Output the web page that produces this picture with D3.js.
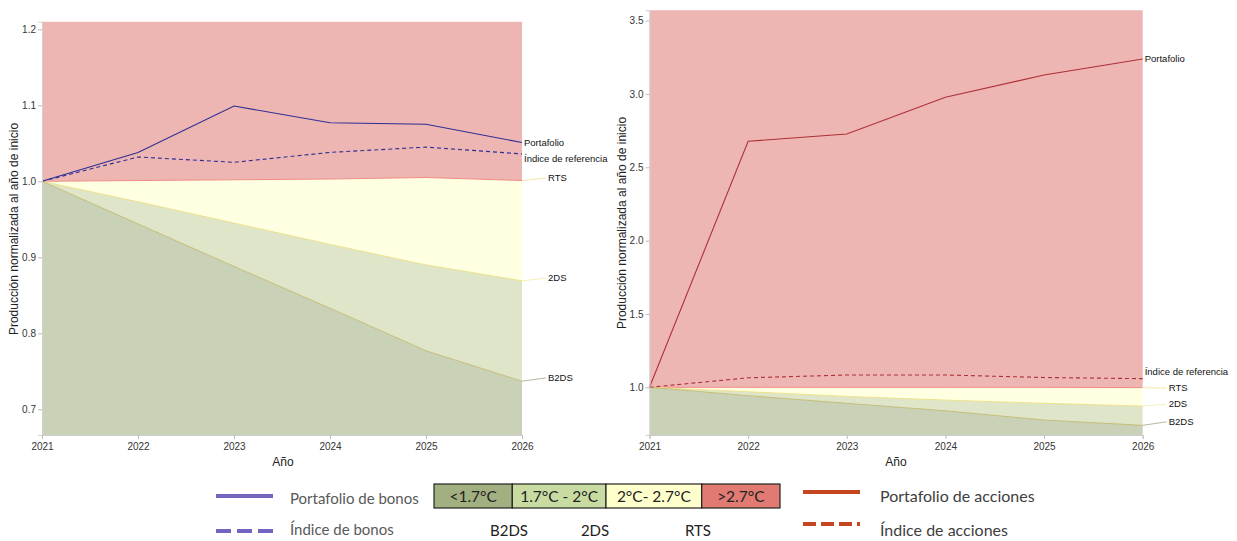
<!DOCTYPE html>
<html>
<head>
<meta charset="utf-8">
<script src="https://cdn.jsdelivr.net/npm/d3@7"></script>
<style>
  html, body { margin: 0; padding: 0; background: #ffffff; }
  svg { display: block; }
</style>
</head>
<body>
<svg id="chart" width="1237" height="541"></svg>
<script>
// ---------------- DATA ----------------
const years = [2021, 2022, 2023, 2024, 2025, 2026];

// Bonos (panel izquierdo)
const bondPortfolio = [1.000, 1.038, 1.099, 1.077, 1.075, 1.051];
const bondIndex     = [1.000, 1.032, 1.025, 1.038, 1.045, 1.036];
const bondRTS       = [1.000, 1.001, 1.002, 1.003, 1.005, 1.001];
const bond2DS       = [1.000, 0.973, 0.945, 0.917, 0.890, 0.869];
const bondB2DS      = [1.000, 0.944, 0.888, 0.833, 0.777, 0.737];
const bondYTicks    = [0.7, 0.8, 0.9, 1.0, 1.1, 1.2];

// Acciones (panel derecho)
const equityPortfolio = [1.000, 2.677, 2.727, 2.977, 3.129, 3.238];
const equityIndex     = [1.000, 1.065, 1.084, 1.084, 1.067, 1.059];
const equityRTS       = [1.000, 1.000, 1.000, 1.000, 1.000, 0.998];
const equity2DS       = [1.000, 0.970, 0.938, 0.913, 0.891, 0.872];
const equityB2DS      = [1.000, 0.943, 0.891, 0.840, 0.777, 0.741];
const equityYTicks    = [1.0, 1.5, 2.0, 2.5, 3.0, 3.5];

// Etiquetas
const yTitle = "Producción normalizada al año de inicio";
const xTitle = "Año";
const lineLabels = ["Portafolio", "Índice de referencia"];
const scenarioNames = ["RTS", "2DS", "B2DS"];
const tempBands = ["<1.7°C", "1.7°C - 2°C", "2°C- 2.7°C", ">2.7°C"];
const bandScenarios = ["B2DS", "2DS", "RTS"];
const bondLegend = ["Portafolio de bonos", "Índice de bonos"];
const equityLegend = ["Portafolio de acciones", "Índice de acciones"];

// ---------------- STYLE ----------------
const C = {
  red: "#EDB6B2", yellow: "#FFFFE1", lgreen: "#DEE5C9", dgreen: "#C9D1B6",
  rtsLine: "#F08A86", ds2Line: "#EEE38C", b2dsLine: "#C6BE78",
  leadRTS: "#F3E9A6", lead2DS: "#F6F0B8", leadB2DS: "#B4BB9C",
  axis: "#D0D0D0", tick: "#333333"
};
const chartFont = "'Liberation Sans', Arial, sans-serif";
const legendFont = "Lato, 'Open Sans', sans-serif";

const svg = d3.select("#chart");

function drawPanel(cfg) {
  const x = d3.scaleLinear().domain([2021, 2026]).range(cfg.xr);
  const y = d3.scaleLinear().domain(cfg.yd).range(cfg.yr);
  const g = svg.append("g");
  const top = cfg.yd[1], bottom = cfg.yd[0];

  const rows = years.map((yr, i) => ({
    yr, p: cfg.port[i], idx: cfg.index[i], rts: cfg.rts[i], ds2: cfg.ds2[i], b2: cfg.b2ds[i]
  }));

  const area = (lo, hi) => d3.area().x(d => x(d.yr)).y0(d => y(lo(d))).y1(d => y(hi(d)));

  g.append("path").datum(rows).attr("fill", C.red).attr("d", area(d => d.rts, d => top));
  g.append("path").datum(rows).attr("fill", C.yellow).attr("d", area(d => d.ds2, d => d.rts));
  g.append("path").datum(rows).attr("fill", C.lgreen).attr("d", area(d => d.b2, d => d.ds2));
  g.append("path").datum(rows).attr("fill", C.dgreen).attr("d", area(d => bottom, d => d.b2));

  const line = acc => d3.line().x(d => x(d.yr)).y(d => y(acc(d)));
  g.append("path").datum(rows).attr("fill", "none").attr("stroke", C.rtsLine).attr("stroke-width", 1).attr("d", line(d => d.rts));
  g.append("path").datum(rows).attr("fill", "none").attr("stroke", C.ds2Line).attr("stroke-width", 1).attr("d", line(d => d.ds2));
  g.append("path").datum(rows).attr("fill", "none").attr("stroke", C.b2dsLine).attr("stroke-width", 1).attr("d", line(d => d.b2));

  g.append("path").datum(rows).attr("fill", "none").attr("stroke", cfg.lineColor)
    .attr("stroke-width", 1.1).attr("stroke-dasharray", "4,3").attr("d", line(d => d.idx));
  g.append("path").datum(rows).attr("fill", "none").attr("stroke", cfg.lineColor)
    .attr("stroke-width", 1.1).attr("d", line(d => d.p));

  // axes
  const yAxis = d3.axisLeft(y).tickValues(cfg.yTicks).tickFormat(d3.format(".1f")).tickSize(4).tickPadding(2);
  const ya = g.append("g").attr("transform", `translate(${cfg.xr[0]},0)`).call(yAxis);
  const xAxis = d3.axisBottom(x).tickValues(years).tickFormat(d3.format("d")).tickSize(4).tickPadding(4);
  const xa = g.append("g").attr("transform", `translate(0,${cfg.yr[0]})`).call(xAxis);
  [ya, xa].forEach(a => {
    a.select(".domain").attr("stroke", C.axis);
    a.selectAll(".tick line").attr("stroke", "#BBBBBB");
    a.selectAll(".tick text").attr("fill", C.tick).style("font-family", chartFont).style("font-size", "10px");
  });

  // titles
  g.append("text").attr("transform", `translate(${cfg.yTitleX},${cfg.yTitleY}) rotate(-90)`)
    .attr("text-anchor", "middle").attr("fill", "#222").style("font-family", chartFont).style("font-size", "12px")
    .text(yTitle);
  g.append("text").attr("x", cfg.xTitleX).attr("y", 466).attr("text-anchor", "middle").attr("fill", "#222")
    .style("font-family", chartFont).style("font-size", "12px").text(xTitle);

  // end labels
  const xe = cfg.xr[1];
  const last = rows[rows.length - 1];
  const lbl = (tx, ty, s) => g.append("text").attr("x", tx).attr("y", ty).attr("dy", "0.35em")
    .attr("fill", "#111").style("font-family", chartFont).style("font-size", "9.5px").text(s);
  lbl(xe + 2, y(last.p) + cfg.offP, lineLabels[0]);
  lbl(xe + 2, y(last.idx) + cfg.offI, lineLabels[1]);
  const scen = [[last.rts, C.leadRTS, cfg.offS[0]], [last.ds2, C.lead2DS, cfg.offS[1]], [last.b2, C.leadB2DS, cfg.offS[2]]];
  scen.forEach((s, i) => {
    const ty = y(s[0]) + s[2];
    g.append("line").attr("x1", xe).attr("y1", y(s[0])).attr("x2", xe + cfg.leadLen).attr("y2", ty)
      .attr("stroke", s[1]).attr("stroke-width", 1);
    lbl(xe + cfg.leadLen + 2, ty, scenarioNames[i]);
  });
}

drawPanel({
  xr: [42, 522], yd: [0.6662, 1.21], yr: [435, 21.7], yTicks: bondYTicks,
  port: bondPortfolio, index: bondIndex, rts: bondRTS, ds2: bond2DS, b2ds: bondB2DS,
  lineColor: "#2E2E94", yTitleX: 18, yTitleY: 229, xTitleX: 283,
  offP: 0, offI: 5, offS: [-2.5, -2.7, -3.3], leadLen: 24
});
drawPanel({
  xr: [649.5, 1142.7], yd: [0.675, 3.57], yr: [435, 10.3], yTicks: equityYTicks,
  port: equityPortfolio, index: equityIndex, rts: equityRTS, ds2: equity2DS, b2ds: equityB2DS,
  lineColor: "#AE3038", yTitleX: 626, yTitleY: 223, xTitleX: 896,
  offP: 0, offI: -7, offS: [0.5, -2, -3.5], leadLen: 24
});

// ---------------- LEGEND ----------------
const lg = svg.append("g");
const legText = (x, y, s, color, size, anchor) => lg.append("text").attr("x", x).attr("y", y)
  .attr("text-anchor", anchor || "start").attr("fill", color).style("font-family", legendFont)
  .style("font-size", size + "px").text(s);

// bonos
lg.append("line").attr("x1", 216).attr("x2", 273).attr("y1", 496).attr("y2", 496)
  .attr("stroke", "#7464C2").attr("stroke-width", 4);
lg.append("line").attr("x1", 216).attr("x2", 273).attr("y1", 531).attr("y2", 531)
  .attr("stroke", "#7464C2").attr("stroke-width", 4).attr("stroke-dasharray", "15,6");
legText(290, 504, bondLegend[0], "#595959", 15);
legText(290, 535, bondLegend[1], "#595959", 15);

// acciones
lg.append("line").attr("x1", 803).attr("x2", 860).attr("y1", 492).attr("y2", 492)
  .attr("stroke", "#C4451E").attr("stroke-width", 4);
lg.append("line").attr("x1", 803).attr("x2", 860).attr("y1", 524).attr("y2", 524)
  .attr("stroke", "#C4451E").attr("stroke-width", 4).attr("stroke-dasharray", "13,5");
legText(880, 502, equityLegend[0], "#404040", 16);
legText(880, 536, equityLegend[1], "#404040", 16);

// bandas de temperatura
const bandX = [434, 512.3, 606, 701.7, 780];
const bandFill = ["#A2AF80", "#C8DCA2", "#FFFFCC", "#E07A72"];
tempBands.forEach((t, i) => {
  lg.append("rect").attr("x", bandX[i]).attr("y", 484).attr("width", bandX[i + 1] - bandX[i]).attr("height", 24)
    .attr("fill", bandFill[i]).attr("stroke", "#222").attr("stroke-width", 1.2);
  legText((bandX[i] + bandX[i + 1]) / 2, 502, t, "#222", 15.5, "middle");
});
const scenX = [509, 595, 698];
bandScenarios.forEach((s, i) => legText(scenX[i], 536, s, "#222", 15, "middle"));
</script>
</body>
</html>
